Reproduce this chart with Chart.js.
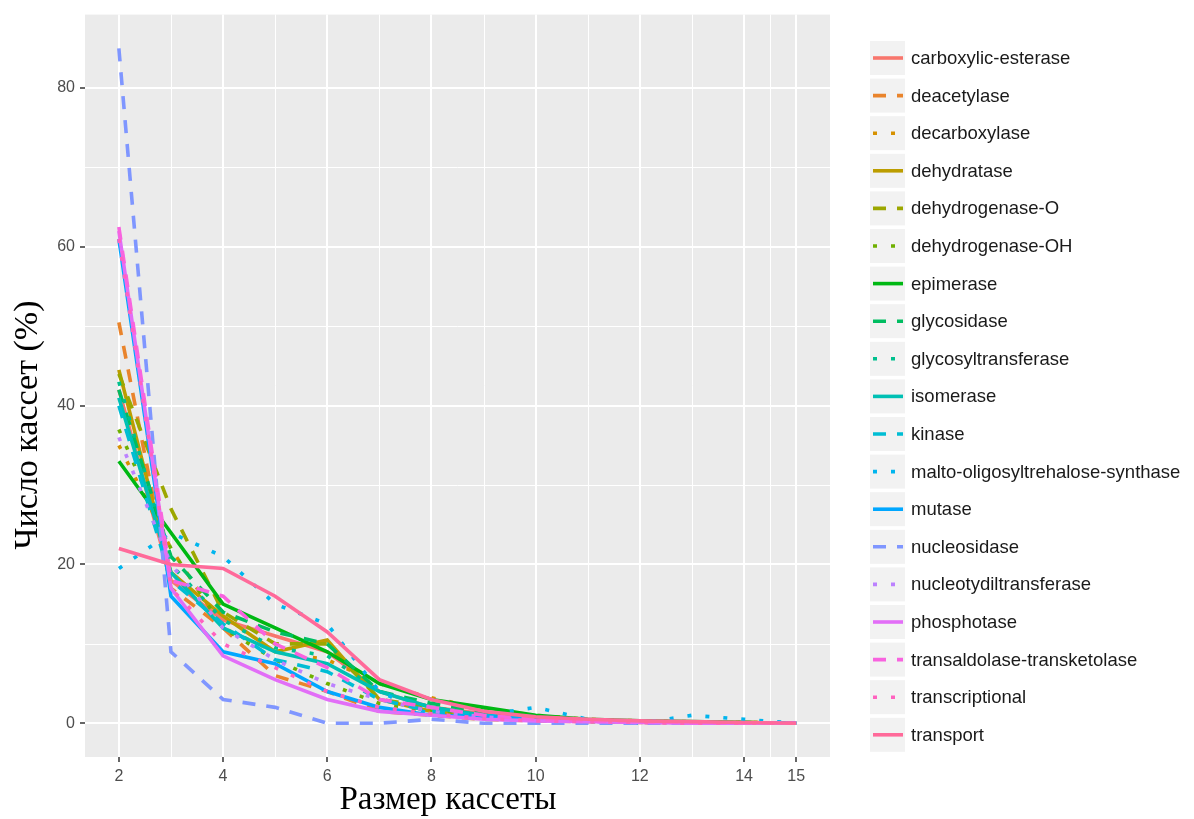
<!DOCTYPE html>
<html>
<head>
<meta charset="utf-8">
<script src="https://cdn.jsdelivr.net/npm/chart.js@4/dist/chart.umd.min.js"></script>
<style>
  html, body { margin: 0; padding: 0; background: #ffffff; }
  canvas { display: block; }
</style>
</head>
<body>
<canvas id="chart" width="1194" height="819"></canvas>
<script>
// размер кассеты
const sizes = [2, 3, 4, 5, 6, 7, 8, 9, 10, 11, 12, 13, 14, 15];
const xTicks = [2, 4, 6, 8, 10, 12, 14, 15];
const yTicks = [0, 20, 40, 60, 80];

// доля кассет (%) для каждого класса ферментов
const carboxylicEsterase = [42, 18, 13, 11, 9, 4, 2, 1.2, 0.6, 0.4, 0.2, 0.1, 0.1, 0];
const deacetylase = [50.5, 17, 12, 6, 4, 1.5, 1, 0.5, 0.3, 0.2, 0.1, 0.1, 0, 0];
const decarboxylase = [35, 22, 12, 9, 8, 5, 3.2, 1.8, 1, 0.5, 0.3, 0.2, 0.1, 0];
const dehydratase = [44.5, 19, 13.5, 9, 10.5, 3, 1.5, 1, 0.5, 0.3, 0.2, 0.1, 0.1, 0];
const dehydrogenaseO = [44, 27, 14, 10, 10, 3, 2, 1, 0.5, 0.3, 0.2, 0.1, 0.1, 0];
const dehydrogenaseOH = [37, 22, 12, 8, 5, 2.5, 1.5, 0.8, 0.4, 0.2, 0.1, 0.1, 0, 0];
const epimerase = [33, 24, 15, 12, 9, 5, 3, 2, 1, 0.5, 0.3, 0.2, 0.1, 0];
const glycosidase = [42, 21, 14, 11.5, 10, 4, 2.5, 1.5, 0.8, 0.4, 0.2, 0.1, 0.1, 0];
const glycosyltransferase = [43, 20, 13, 9.5, 8.5, 4, 2, 1, 0.5, 0.3, 0.2, 0.1, 0, 0];
const isomerase = [41, 19, 12, 9, 7.5, 4, 2, 1, 0.5, 0.3, 0.2, 0.1, 0, 0];
const kinase = [40, 18, 12.5, 8, 6.5, 3, 1.5, 1, 0.5, 0.3, 0.2, 0.1, 0, 0];
const maltoSynthase = [19.5, 24, 21, 15, 12.5, 4, 1, 1, 2, 0.5, 0, 1, 0.5, 0];
const mutase = [61, 16, 9, 7.5, 4, 2, 1, 0.8, 0.5, 0.3, 0.2, 0.1, 0, 0];
const nucleosidase = [85, 9, 3, 2, 0, 0, 0.5, 0, 0, 0, 0, 0, 0, 0];
const nucleotydiltransferase = [36, 20, 12, 8, 5, 3, 1.5, 0.8, 0.4, 0.2, 0.1, 0.1, 0, 0];
const phosphotase = [62, 17, 8.5, 5.5, 3, 1.5, 1, 0.5, 0.3, 0.2, 0.1, 0, 0, 0];
const transaldolase = [62.5, 18, 16, 10, 7, 3, 2, 1, 0.5, 0.3, 0.2, 0.1, 0, 0];
const transcriptional = [61, 17, 10, 7, 4, 2, 1.2, 0.6, 0.3, 0.2, 0.1, 0, 0, 0];
const transport = [22, 20, 19.5, 16, 11.5, 5.5, 3, 1.5, 0.8, 0.5, 0.3, 0.2, 0.1, 0];

const seriesNames = [
  "carboxylic-esterase", "deacetylase", "decarboxylase", "dehydratase",
  "dehydrogenase-O", "dehydrogenase-OH", "epimerase", "glycosidase",
  "glycosyltransferase", "isomerase", "kinase", "malto-oligosyltrehalose-synthase",
  "mutase", "nucleosidase", "nucleotydiltransferase", "phosphotase",
  "transaldolase-transketolase", "transcriptional", "transport"
];
const seriesValues = [
  carboxylicEsterase, deacetylase, decarboxylase, dehydratase,
  dehydrogenaseO, dehydrogenaseOH, epimerase, glycosidase,
  glycosyltransferase, isomerase, kinase, maltoSynthase,
  mutase, nucleosidase, nucleotydiltransferase, phosphotase,
  transaldolase, transcriptional, transport
];

// цвета как у ggplot hue_pal(): hcl(h, c = 100, l = 65)
function hcl(h, c, l) {
  const hr = h * Math.PI / 180;
  const U = c * Math.cos(hr), V = c * Math.sin(hr);
  const Y = Math.pow((l + 16) / 116, 3);
  const un = 0.1978398, vn = 0.4683363;
  const up = U / (13 * l) + un, vp = V / (13 * l) + vn;
  const X = Y * 9 * up / (4 * vp);
  const Z = Y * (12 - 3 * up - 20 * vp) / (4 * vp);
  const lin = [
    3.2404542 * X - 1.5371385 * Y - 0.4985314 * Z,
    -0.9692660 * X + 1.8760108 * Y + 0.0415560 * Z,
    0.0556434 * X - 0.2040259 * Y + 1.0572252 * Z
  ];
  const ch = lin.map(v => {
    const g = v <= 0.0031308 ? 12.92 * v : 1.055 * Math.pow(v, 1 / 2.4) - 0.055;
    return Math.round(Math.min(1, Math.max(0, g)) * 255);
  });
  return "rgb(" + ch.join(",") + ")";
}

const n = seriesNames.length;
const colors = seriesNames.map((_, i) => hcl(15 + i * 360 / n, 100, 65));
const dashes = [[], [13, 11], [4, 14]];

const datasets = seriesNames.map((name, i) => ({
  label: name,
  data: sizes.map((s, j) => ({ x: s, y: seriesValues[i][j] })),
  borderColor: colors[i],
  backgroundColor: colors[i],
  borderWidth: 3.6,
  borderDash: dashes[i % 3],
  borderCapStyle: "butt",
  pointRadius: 0,
  tension: 0,
  fill: false,
  order: n - i
}));

// серый фон панели и второстепенная сетка
const panelPlugin = {
  id: "panel",
  beforeDraw(chart) {
    const { ctx, chartArea: a, scales } = chart;
    ctx.save();
    ctx.fillStyle = "#EBEBEB";
    ctx.fillRect(a.left, a.top, a.right - a.left, a.bottom - a.top);
    ctx.strokeStyle = "#FFFFFF";
    ctx.lineWidth = 1;
    [10, 30, 50, 70].forEach(v => {
      const y = Math.round(scales.y.getPixelForValue(v)) + 0.5;
      ctx.beginPath(); ctx.moveTo(a.left, y); ctx.lineTo(a.right, y); ctx.stroke();
    });
    [3, 5, 7, 9, 11, 13, 14.5].forEach(v => {
      const x = Math.round(scales.x.getPixelForValue(v)) + 0.5;
      ctx.beginPath(); ctx.moveTo(x, a.top); ctx.lineTo(x, a.bottom); ctx.stroke();
    });
    ctx.restore();
  },
  afterDraw(chart) {
    const { ctx } = chart;
    ctx.save();
    // подписи осей
    ctx.fillStyle = "#000000";
    ctx.textAlign = "center";
    ctx.textBaseline = "middle";
    ctx.font = "33px 'Liberation Serif'";
    ctx.fillText("Размер кассеты", 448, 800);
    ctx.translate(28, 425);
    ctx.rotate(-Math.PI / 2);
    ctx.font = "34px 'Liberation Serif'";
    ctx.fillText("Число кассет (%)", 0, 0);
    ctx.restore();

    // легенда
    ctx.save();
    ctx.font = "18.5px 'Liberation Sans'";
    ctx.textAlign = "left";
    ctx.textBaseline = "middle";
    chart.data.datasets.forEach((ds, i) => {
      const cy = 58 + i * 37.6;
      ctx.fillStyle = "#F2F2F2";
      ctx.fillRect(870, cy - 17, 35, 34);
      ctx.strokeStyle = ds.borderColor;
      ctx.lineWidth = 3.6;
      ctx.lineCap = "butt";
      ctx.setLineDash(ds.borderDash);
      ctx.beginPath();
      ctx.moveTo(873, cy);
      ctx.lineTo(903, cy);
      ctx.stroke();
      ctx.setLineDash([]);
      ctx.fillStyle = "#1A1A1A";
      ctx.fillText(ds.label, 911, cy + 1);
    });
    ctx.restore();
  }
};

new Chart(document.getElementById("chart").getContext("2d"), {
  type: "line",
  data: { datasets },
  options: {
    responsive: false,
    animation: false,
    devicePixelRatio: 1,
    layout: { padding: { left: 0, right: 364, top: 8, bottom: 0 } },
    plugins: {
      legend: { display: false },
      tooltip: { enabled: false }
    },
    scales: {
      x: {
        type: "linear",
        min: 1.35,
        max: 15.65,
        afterBuildTicks: s => { s.ticks = xTicks.map(v => ({ value: v })); },
        afterFit: s => { s.height = 62; },
        border: { display: false },
        grid: { color: "#FFFFFF", lineWidth: 2, tickColor: "#333333", tickLength: 5, tickWidth: 1.5 },
        ticks: { color: "#4D4D4D", font: { family: "'Liberation Sans'", size: 16 }, padding: 5, maxRotation: 0 }
      },
      y: {
        type: "linear",
        min: -4.25,
        max: 89.25,
        afterBuildTicks: s => { s.ticks = yTicks.map(v => ({ value: v })); },
        afterFit: s => { s.width = 85; },
        border: { display: false },
        grid: { color: "#FFFFFF", lineWidth: 2, tickColor: "#333333", tickLength: 5, tickWidth: 1.5 },
        ticks: { color: "#4D4D4D", font: { family: "'Liberation Sans'", size: 16 }, padding: 5 }
      }
    }
  },
  plugins: [panelPlugin]
});
</script>
</body>
</html>
